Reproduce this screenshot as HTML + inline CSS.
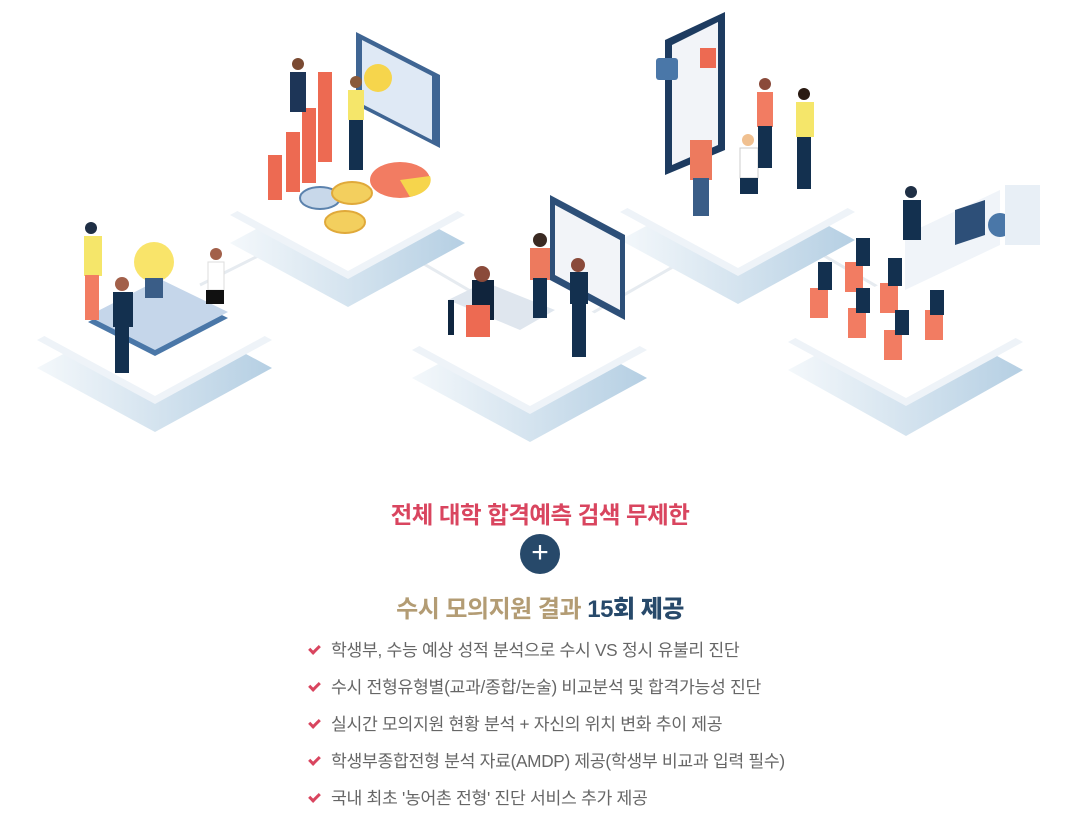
<!DOCTYPE html>
<html><head><meta charset="utf-8"><style>
body{margin:0;width:1080px;height:820px;background:#fff;overflow:hidden;position:relative;font-family:"Liberation Sans","Noto Sans CJK KR",sans-serif}
.t1{position:absolute;top:496px;left:0;width:1080px;text-align:center;font-size:23.5px;font-weight:bold;color:#d9455f;letter-spacing:-0.5px}
.plus{position:absolute;left:520px;top:534px;width:40px;height:40px;border-radius:50%;background:#27496a;color:#fff;font-size:30px;line-height:38px;text-align:center}
.t2{position:absolute;top:589px;left:0;width:1080px;text-align:center;font-size:24px;font-weight:bold;color:#b39c74;letter-spacing:-0.5px}
.t2 b{color:#27496a}
ul{position:absolute;left:306px;top:638px;margin:0;padding:0;list-style:none}
li{height:37px;font-size:17.2px;color:#666;line-height:24px;position:relative;padding-left:25px;letter-spacing:-0.3px;white-space:nowrap}
li:before{content:"";position:absolute;left:3px;top:7px;width:8px;height:4px;border-left:3px solid #d9455f;border-bottom:3px solid #d9455f;transform:rotate(-45deg)}
</style></head><body>
<svg width="1080" height="480" style="position:absolute;left:0;top:0">
<defs>
<linearGradient id="g" x1="0" y1="0" x2="1" y2="0"><stop offset="0" stop-color="#f4f8fb"/><stop offset="1" stop-color="#b5cfe3"/></linearGradient>
</defs>
<g stroke="#e6ebf0" stroke-width="3" fill="none">
<line x1="200" y1="285" x2="340" y2="215"/><line x1="400" y1="250" x2="520" y2="320"/><line x1="580" y1="320" x2="720" y2="240"/><line x1="780" y1="230" x2="900" y2="300"/>
</g>
<g>
<polygon points="37,368 155,432 272,368 155,305" fill="url(#g)"/>
<polygon points="37,340 155,404 272,340 155,276" fill="#eef3f8"/>
<polygon points="37,332 155,396 272,332 155,268" fill="#fff"/>
<polygon points="230,243 348,307 465,243 348,180" fill="url(#g)"/>
<polygon points="230,215 348,279 465,215 348,151" fill="#eef3f8"/>
<polygon points="230,207 348,271 465,207 348,143" fill="#fff"/>
<polygon points="412,378 530,442 647,378 530,315" fill="url(#g)"/>
<polygon points="412,350 530,414 647,350 530,286" fill="#eef3f8"/>
<polygon points="412,342 530,406 647,342 530,278" fill="#fff"/>
<polygon points="620,240 738,304 855,240 738,177" fill="url(#g)"/>
<polygon points="620,212 738,276 855,212 738,148" fill="#eef3f8"/>
<polygon points="620,204 738,268 855,204 738,140" fill="#fff"/>
<polygon points="788,370 906,436 1023,370 906,307" fill="url(#g)"/>
<polygon points="788,342 906,406 1023,342 906,278" fill="#eef3f8"/>
<polygon points="788,334 906,398 1023,334 906,270" fill="#fff"/>
</g>
<polygon points="88,322 155,356 228,318 160,285" fill="#4a77a8"/>
<polygon points="88,316 155,350 228,312 160,279" fill="#c5d6ea"/>
<circle cx="154" cy="262" r="20" fill="#f9e46a"/><rect x="145" y="278" width="18" height="20" fill="#3a5d87"/>
<rect x="84" y="236" width="18" height="40" fill="#f5e66a"/><rect x="85" y="275" width="14" height="45" fill="#f27c62"/><circle cx="91" cy="228" r="6" fill="#1f2f45"/>
<rect x="113" y="292" width="20" height="35" fill="#13304f"/><rect x="115" y="325" width="14" height="48" fill="#13304f"/><circle cx="122" cy="284" r="7" fill="#a2604a"/>
<rect x="208" y="262" width="16" height="28" fill="#fff" stroke="#ddd"/><rect x="206" y="290" width="18" height="14" fill="#111"/><circle cx="216" cy="254" r="6" fill="#a2604a"/>
<polygon points="356,32 440,75 440,148 356,105" fill="#3f6593"/><polygon points="362,40 432,76 432,140 362,104" fill="#dfe9f5"/>
<circle cx="378" cy="78" r="14" fill="#f6d54c"/>
<rect x="268" y="155" width="14" height="45" fill="#ed6a52"/><rect x="286" y="132" width="14" height="60" fill="#ed6a52"/><rect x="302" y="108" width="14" height="75" fill="#ed6a52"/><rect x="318" y="72" width="14" height="90" fill="#ed6a52"/>
<rect x="290" y="72" width="16" height="40" fill="#1d3557"/><circle cx="298" cy="64" r="6" fill="#7a4a32"/>
<rect x="348" y="90" width="16" height="30" fill="#f5e66a"/><rect x="349" y="120" width="14" height="50" fill="#13304f"/><circle cx="356" cy="82" r="6" fill="#8a5a3a"/>
<ellipse cx="400" cy="180" rx="30" ry="18" fill="#f27c62"/><path d="M400 180 L430 176 A30 18 0 0 1 410 197 Z" fill="#f6d54c"/>
<ellipse cx="320" cy="198" rx="20" ry="11" fill="#c8d8ea" stroke="#5b82ad" stroke-width="2"/><ellipse cx="352" cy="193" rx="20" ry="11" fill="#f3cf5e" stroke="#e0a93a" stroke-width="2"/><ellipse cx="345" cy="222" rx="20" ry="11" fill="#f3cf5e" stroke="#e0a93a" stroke-width="2"/>
<polygon points="550,195 625,235 625,320 550,280" fill="#2d4f78"/><polygon points="555,205 620,240 620,310 555,275" fill="#f2f4f8"/>
<polygon points="448,300 520,330 555,310 485,282" fill="#dfe6ee"/><rect x="448" y="300" width="6" height="35" fill="#0f2640"/>
<rect x="472" y="280" width="22" height="40" fill="#10243c"/><rect x="466" y="305" width="24" height="32" fill="#ed6a52"/><circle cx="482" cy="274" r="8" fill="#8a4a3a"/>
<rect x="530" y="248" width="20" height="32" fill="#ed7a5e"/><rect x="533" y="278" width="14" height="40" fill="#13304f"/><circle cx="540" cy="240" r="7" fill="#3a2a22"/>
<rect x="570" y="272" width="18" height="32" fill="#13304f"/><rect x="572" y="302" width="14" height="55" fill="#13304f"/><circle cx="578" cy="265" r="7" fill="#8a4a3a"/>
<polygon points="665,40 725,12 725,150 665,175" fill="#1d3b60"/><polygon points="672,45 718,22 718,145 672,165" fill="#f2f4f8"/>
<rect x="656" y="58" width="22" height="22" rx="3" fill="#4a77a8"/><rect x="700" y="48" width="16" height="20" fill="#ed6a52"/>
<rect x="690" y="140" width="22" height="40" fill="#ed7a5e"/><rect x="693" y="178" width="16" height="38" fill="#3a5d87"/>
<rect x="740" y="148" width="18" height="30" fill="#fff" stroke="#ccc"/><rect x="740" y="178" width="18" height="16" fill="#13304f"/><circle cx="748" cy="140" r="6" fill="#f0c090"/>
<rect x="757" y="92" width="16" height="35" fill="#f27c62"/><rect x="758" y="126" width="14" height="42" fill="#13304f"/><circle cx="765" cy="84" r="6" fill="#8a4a3a"/>
<rect x="796" y="102" width="18" height="35" fill="#f5e66a"/><rect x="797" y="137" width="14" height="52" fill="#13304f"/><circle cx="804" cy="94" r="6" fill="#2a1a12"/>
<polygon points="905,235 1000,190 1000,245 905,290" fill="#f0f4f9"/><polygon points="955,210 985,200 985,235 955,245" fill="#2d4f78"/><circle cx="1000" cy="225" r="12" fill="#4a77a8"/>
<rect x="1005" y="185" width="35" height="60" fill="#e8eff6"/>
<rect x="903" y="200" width="18" height="40" fill="#13304f"/><circle cx="911" cy="192" r="6" fill="#1f2f45"/>
<g fill="#f27c62"><rect x="810" y="288" width="18" height="30"/><rect x="845" y="262" width="18" height="30"/><rect x="848" y="308" width="18" height="30"/><rect x="880" y="283" width="18" height="30"/><rect x="884" y="330" width="18" height="30"/><rect x="925" y="310" width="18" height="30"/></g>
<g fill="#13304f"><rect x="818" y="262" width="14" height="28"/><rect x="856" y="238" width="14" height="28"/><rect x="888" y="258" width="14" height="28"/><rect x="856" y="288" width="14" height="25"/><rect x="930" y="290" width="14" height="25"/><rect x="895" y="310" width="14" height="25"/></g>
</svg>
<div class="t1">전체 대학 합격예측 검색 무제한</div>
<div class="plus">+</div>
<div class="t2">수시 모의지원 결과 <b>15회 제공</b></div>
<ul>
<li>학생부, 수능 예상 성적 분석으로 수시 VS 정시 유불리 진단</li>
<li>수시 전형유형별(교과/종합/논술) 비교분석 및 합격가능성 진단</li>
<li>실시간 모의지원 현황 분석 + 자신의 위치 변화 추이 제공</li>
<li>학생부종합전형 분석 자료(AMDP) 제공(학생부 비교과 입력 필수)</li>
<li>국내 최초 '농어촌 전형' 진단 서비스 추가 제공</li>
</ul>
</body></html>
